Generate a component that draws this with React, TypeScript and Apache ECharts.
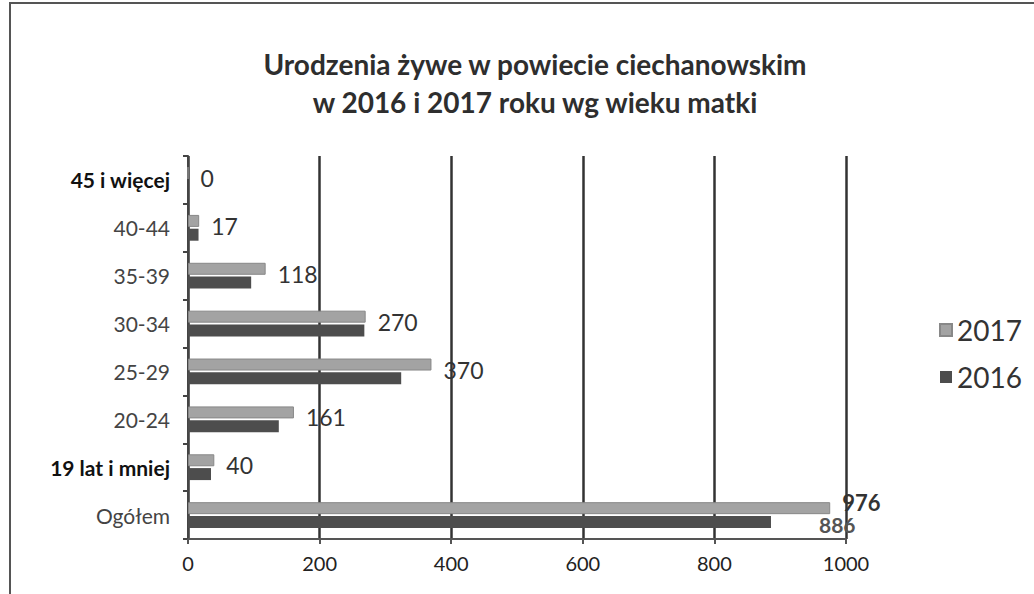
import React, { useEffect, useRef } from "react";
import * as echarts from "echarts";

const categories = ["Ogółem", "19 lat i mniej", "20-24", "25-29", "30-34", "35-39", "40-44", "45 i więcej"];
const values2017 = [976, 40, 161, 370, 270, 118, 17, 0];
const values2016 = [886, 35, 138, 324, 268, 96, 16, 0];
const boldCategories = ["45 i więcej", "19 lat i mniej"];
const xTicks = [0, 200, 400, 600, 800, 1000];

export default function App() {
  const ref = useRef<HTMLDivElement>(null);
  useEffect(() => {
    if (!ref.current) return;
    const chart = echarts.init(ref.current, null, { renderer: "svg" });
    const font = "Lato, 'Open Sans', sans-serif";
    chart.setOption({
      animation: false,
      backgroundColor: "#ffffff",
      textStyle: { fontFamily: font },
      title: {
        text: "Urodzenia żywe w powiecie ciechanowskim\nw 2016 i 2017 roku wg wieku matki",
        left: 530,
        textAlign: "center",
        top: 40,
        textStyle: { fontSize: 28, fontWeight: "bold", color: "#2e2e2e", lineHeight: 38, fontFamily: font },
      },
      legend: {
        data: ["2017", "2016"],
        orient: "vertical",
        left: 934,
        top: 311,
        itemWidth: 12,
        itemHeight: 12,
        itemGap: 19,
        icon: "rect",
        textStyle: { fontSize: 28, color: "#333", fontFamily: font },
      },
      grid: { left: 188, right: 188, top: 156, bottom: 55 },
      xAxis: {
        type: "value",
        min: xTicks[0],
        max: xTicks[xTicks.length - 1],
        interval: 200,
        axisLine: { show: true, lineStyle: { color: "#555", width: 2 } },
        axisTick: { show: true, lineStyle: { color: "#555", width: 2 } },
        axisLabel: { fontSize: 20, color: "#222", margin: 14, fontFamily: font, formatter: (v: number) => String(v) },
        splitLine: { show: true, lineStyle: { color: "#333", width: 2.5 } },
      },
      yAxis: {
        type: "category",
        data: categories,
        axisLine: { show: true, lineStyle: { color: "#444", width: 2 } },
        axisTick: { show: true, lineStyle: { color: "#444", width: 2 } },
        axisLabel: {
          margin: 18,
          fontFamily: font,
          formatter: (v: string) => (boldCategories.includes(v) ? `{b|${v}}` : `{n|${v}}`),
          rich: {
            b: { fontSize: 21, fontWeight: "bold", color: "#111", fontFamily: font },
            n: { fontSize: 21, color: "#444", fontFamily: font },
          },
        },
      },
      series: [
        {
          name: "2017",
          type: "bar",
          data: values2017.map((v, i) =>
            i === 0 ? { value: v, label: { offset: [0, -6], fontSize: 22, lineHeight: 22, fontWeight: "bold" } } : v
          ),
          barWidth: 12,
          barGap: "15%",
          itemStyle: { color: "#a3a3a3", borderColor: "#888", borderWidth: 1 },
          label: { show: true, position: "right", distance: 12, fontSize: 23, color: "#333", offset: [0, 5], fontFamily: font },
        },
        {
          name: "2016",
          type: "bar",
          data: values2016.map((v, i) =>
            i === 0
              ? { value: v, label: { show: true, position: "right", distance: 48, offset: [0, 3], fontSize: 21, lineHeight: 21, fontWeight: "bold", color: "#555", fontFamily: font } }
              : v
          ),
          barWidth: 12,
          itemStyle: { color: "#4d4d4d" },
        },
      ],
      graphic: [
        {
          type: "rect",
          shape: { x: 10, y: 3, width: 1040, height: 600 },
          style: { fill: "none", stroke: "#555", lineWidth: 2 },
          silent: true,
        },
      ],
    });
    return () => chart.dispose();
  }, []);
  return <div ref={ref} style={{ position: "fixed", left: 0, top: 0, width: 1034, height: 594 }} />;
}
